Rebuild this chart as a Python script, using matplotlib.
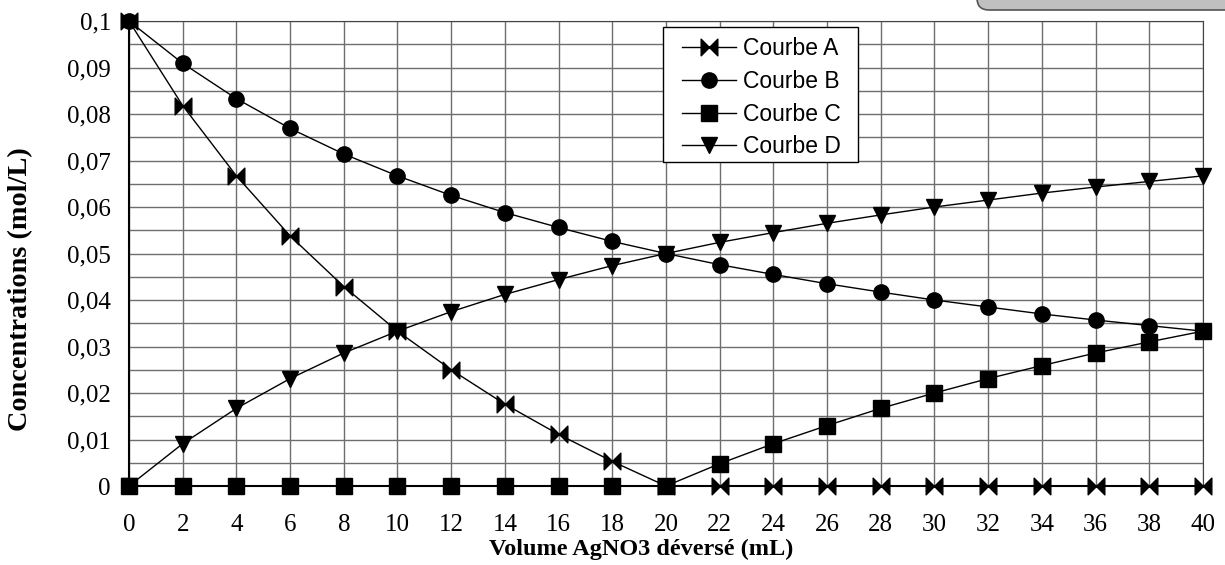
import numpy as np
import matplotlib.pyplot as plt
from matplotlib.path import Path
from matplotlib.patches import FancyBboxPatch, Rectangle
from matplotlib.transforms import IdentityTransform

volume = [0, 2, 4, 6, 8, 10, 12, 14, 16, 18, 20, 22, 24, 26, 28, 30, 32, 34, 36, 38, 40]
courbe_a = [0.1, 0.0818, 0.0667, 0.0538, 0.0429, 0.0333, 0.025, 0.0176, 0.0111, 0.0053, 0,
            0, 0, 0, 0, 0, 0, 0, 0, 0, 0]
courbe_b = [0.1, 0.0909, 0.0833, 0.0769, 0.0714, 0.0667, 0.0625, 0.0588, 0.0556, 0.0526, 0.05,
            0.0476, 0.0455, 0.0435, 0.0417, 0.04, 0.0385, 0.037, 0.0357, 0.0345, 0.0333]
courbe_c = [0, 0, 0, 0, 0, 0, 0, 0, 0, 0, 0,
            0.0048, 0.0091, 0.013, 0.0167, 0.02, 0.0231, 0.0259, 0.0286, 0.031, 0.0333]
courbe_d = [0, 0.0091, 0.0167, 0.0231, 0.0286, 0.0333, 0.0375, 0.0412, 0.0444, 0.0474, 0.05,
            0.0524, 0.0545, 0.0565, 0.0583, 0.06, 0.0615, 0.063, 0.0643, 0.0655, 0.0667]

y_ticks = [0, 0.01, 0.02, 0.03, 0.04, 0.05, 0.06, 0.07, 0.08, 0.09, 0.1]
y_labels = ['0', '0,01', '0,02', '0,03', '0,04', '0,05', '0,06', '0,07', '0,08', '0,09', '0,1']

# bowtie marker: two triangles meeting at the centre
bowtie = Path([(-1, -1), (0, 0), (-1, 1), (-1, -1), (1, -1), (0, 0), (1, 1), (1, -1)],
              [Path.MOVETO, Path.LINETO, Path.LINETO, Path.CLOSEPOLY,
               Path.MOVETO, Path.LINETO, Path.LINETO, Path.CLOSEPOLY])

fig = plt.figure(figsize=(12.25, 5.65), dpi=100)
ax = fig.add_axes([0.1053, 0.1398, 0.8767, 0.823])

ax.set_xticks(np.arange(0, 41, 2))
ax.set_yticks(np.arange(0, 0.1001, 0.005), minor=True)
ax.grid(True, which='both', color='#6e6e6e', linewidth=1)
ax.set_axisbelow(True)

style = dict(color='black', linewidth=1, clip_on=False, zorder=3)
ax.plot(volume, courbe_a, marker=bowtie, markersize=12, label='Courbe A', **style)
ax.plot(volume, courbe_b, marker='o', markersize=11, label='Courbe B', **style)
ax.plot(volume, courbe_c, marker='s', markersize=11.5, label='Courbe C', **style)
ax.plot(volume, courbe_d, marker='v', markersize=12, label='Courbe D', **style)

ax.set_xlim(0, 40)
ax.set_ylim(0, 0.1)
ax.set_yticks(y_ticks)
ax.set_yticklabels(y_labels)
ax.tick_params(which='both', length=0, labelsize=18)
ax.tick_params(axis='x', pad=20.5)
ax.tick_params(axis='y', pad=13)
for lab in ax.get_xticklabels() + ax.get_yticklabels():
    lab.set_family('Liberation Serif')

for side in ['left', 'bottom']:
    ax.spines[side].set_linewidth(1.5)
for side in ['top', 'right']:
    ax.spines[side].set_color('#444444')

ax.set_xlabel('Volume AgNO3 déversé (mL)', family='Liberation Serif', fontweight='bold',
              fontsize=17.5)
ax.set_ylabel('Concentrations (mol/L)', family='Liberation Serif', fontweight='bold',
              fontsize=20.3)
ax.xaxis.set_label_coords(0.4767, -0.114)
ax.yaxis.set_label_coords(-0.0894, 0.4237)

# legend frame drawn by hand (wide side margins, tight top/bottom)
ax.add_patch(Rectangle((0.4972, 0.6968), 0.1816, 0.2903, transform=ax.transAxes,
                       facecolor='white', edgecolor='black', linewidth=1,
                       zorder=4, clip_on=False))
leg = ax.legend(loc='upper left', bbox_to_anchor=(0.5149, 0.965), borderaxespad=0,
                borderpad=0, prop={'family': 'Liberation Sans', 'size': 16.5},
                handlelength=2.36, handletextpad=0.3, labelspacing=0.42, frameon=False)
leg.set_zorder(5)

# grey rounded tab cut by the top edge
tab = FancyBboxPatch((977, 555), 300, 40, boxstyle='round,pad=0,rounding_size=12',
                     transform=IdentityTransform(), facecolor='#c0c0c0',
                     edgecolor='#555555', linewidth=1.2)
fig.patches.append(tab)

fig.savefig('out.png', dpi=100)
